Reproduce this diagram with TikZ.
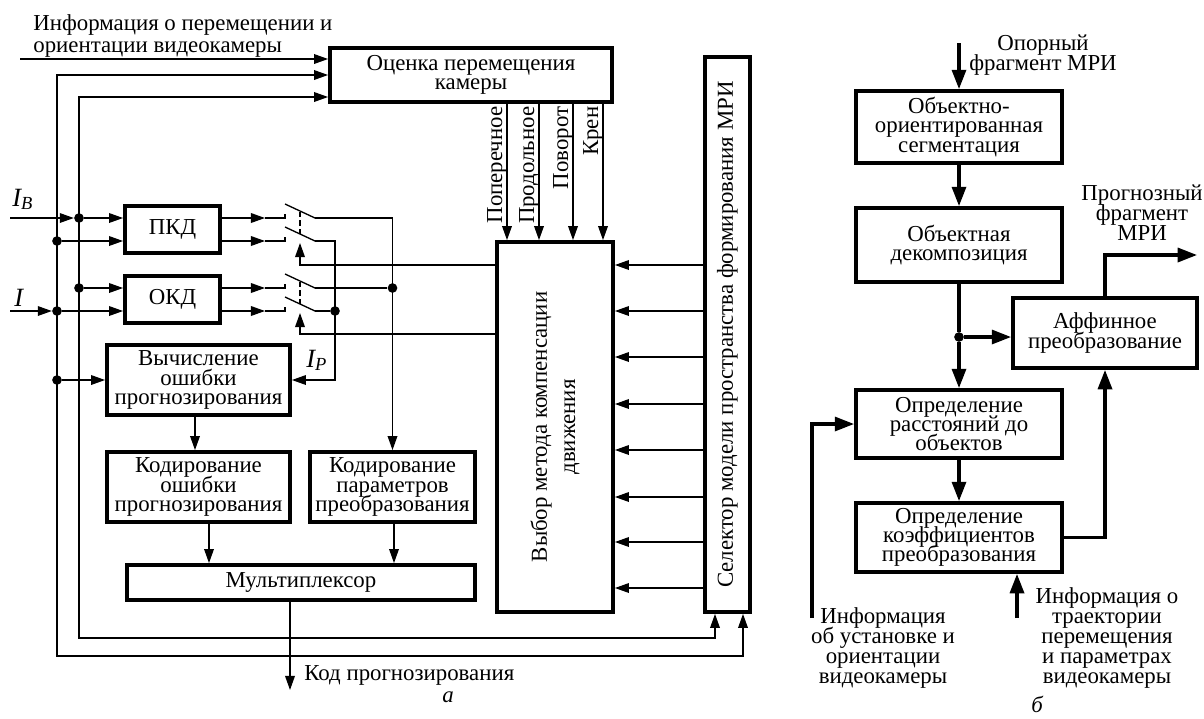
\documentclass[tikz,border=0pt]{standalone}
\usepackage{fontspec}
\setmainfont{Liberation Serif}
\usetikzlibrary{arrows.meta,calc}
\setlength{\lineskiplimit}{-20pt}

\begin{document}
\begin{tikzpicture}[x=0.02cm,y=-0.02cm,
  font=\fontsize{13}{11}\selectfont,
  blok/.style={draw,line width=2.2pt,align=center,inner sep=1pt},
  prik/.style={circle,fill,inner sep=0pt,minimum size=5.5pt},
  tonk/.style={line width=0.75pt},
  tolst/.style={line width=1.8pt,>={Triangle[length=11pt,width=8pt]}},
  >={Triangle[length=8pt,width=5.5pt]}]
  \useasboundingbox (0,0) rectangle (1204,718);
  % Bloki (a)
  \node[blok,minimum width=5.64cm,minimum height=1.08cm] (ocenka) at (471,75) {Оценка перемещения\\камеры};
  \node[blok,minimum width=2.32cm,minimum height=7.4cm] (vybor) at (555,427)
    {\rotatebox{90}{\parbox{6cm}{\centering\baselineskip=16pt Выбор метода компенсации\\движения\par}}};
  \node[blok,minimum width=0.9cm,minimum height=11.1cm] (sel) at (727.5,334.5)
    {\rotatebox{90}{Селектор модели пространства формирования МРИ}};
  \node[blok,minimum width=1.9cm,minimum height=0.94cm] (pkd) at (172.5,229.5) {ПКД};
  \node[blok,minimum width=1.9cm,minimum height=0.94cm] (okd) at (172.5,299.5) {ОКД};
  \node[blok,minimum width=3.66cm,minimum height=1.4cm] (vych) at (198.5,380) {Вычисление\\ошибки\\прогнозирования};
  \node[blok,minimum width=3.66cm,minimum height=1.4cm] (koderr) at (198.5,487) {Кодирование\\ошибки\\прогнозирования};
  \node[blok,minimum width=3.3cm,minimum height=1.4cm] (kodpar) at (392.5,487) {Кодирование\\параметров\\преобразования};
  \node[blok,minimum width=6.96cm,minimum height=0.7cm] (mux) at (301,582.5) {Мультиплексор};
  % Podpisi (a)
  \node[anchor=north west,align=left,inner sep=0pt,font=\fontsize{13}{12.5}\selectfont] (infotxt) at (33,14.5)
    {Информация о перемещении и\\ориентации видеокамеры};
  \node[anchor=base west,inner sep=0pt,font=\fontsize{15}{15}\selectfont\itshape] (lIB) at (12,206) {I\textsubscript{B}};
  \node[anchor=base west,inner sep=0pt,font=\fontsize{15}{15}\selectfont\itshape] (lI) at (14,306) {I};
  \node[anchor=base west,inner sep=0pt,font=\fontsize{15}{15}\selectfont\itshape] (lIP) at (306,367) {I\textsubscript{P}};
  \node[anchor=west,inner sep=0pt] (kodlab) at (304,675) {Код прогнозирования};
  \node[font=\fontsize{13}{13}\selectfont\itshape] (la) at (448,697) {а};
  % Tochki
  \node[prik] (dB1) at (79,218) {};
  \node[prik] (dA1) at (57,241) {};
  \node[prik] (dB2) at (79,288) {};
  \node[prik] (dA2) at (57,311) {};
  \node[prik] (dA3) at (57,380) {};
  \node[prik] (dP1) at (392.5,288) {};
  \node[prik] (dP2) at (335,311) {};
  \coordinate (inInfo) at (20,59);
  \coordinate (inIB) at (10,218);
  \coordinate (inI) at (10,311);
  \coordinate (kodout) at (290,690);
  % Vhody
  \begin{scope}[tonk]
  \draw[->] (inInfo) -- (inInfo -| ocenka.west);
  \draw[->] (inIB) -- (dB1);
  \draw[->] (inI) -- (dA2);
  \draw[<->] (ocenka.west) -| (57,656) -| ($(sel.south)+(15.5,0)$);
  \draw[<->] ($(ocenka.west)+(0,22)$) -| (79,638) -| ($(sel.south)+(-12.5,0)$);
  \draw[->] (dB1) -- (dB1 -| pkd.west);
  \draw[->] (dA1) -- (dA1 -| pkd.west);
  \draw[->] (dB2) -- (dB2 -| okd.west);
  \draw[->] (dA2) -- (dA2 -| okd.west);
  \draw[->] (dA3) -- (vych.west);
  % Kljuchi
  \foreach \b/\y in {pkd/218,pkd/241,okd/288,okd/311} {
    \draw[->] (\b.east |- 0,\y) -- (265,\y);
    \draw (265,\y) -- (285,\y) -- ++(0,-4);
    \draw (285,\y-14) -- (315,\y);
  }
  \draw[densely dashed] (300,211.5) -- (300,234.5);
  \draw[densely dashed] (300,281.5) -- (300,304.5);
  \draw[->] (vybor.west |- 0,265) -| (300,243);
  \draw[->] (vybor.west |- 0,334) -| (300,313);
  \draw[->] (315,218) -| (kodpar.north);
  \draw (315,288) -- (dP1);
  \draw[->] (315,241) -| (335,380) -- (vych.east);
  \draw (315,311) -- (dP2);
  % Kodirovanie
  \draw[->] (vych.south -| 195,0) -- (koderr.north -| 195,0);
  \draw[->] (koderr.south -| 209,0) -- (mux.north -| 209,0);
  \draw[->] (kodpar.south -| 394,0) -- (mux.north -| 394,0);
  \draw[->] (mux.south -| kodout) -- (kodout);
  % Dvizhenie
  \foreach \x/\lab in {507/Поперечное,539/Продольное,573/Поворот,603/Крен} {
    \draw[->] (ocenka.south -| \x,0) -- (vybor.north -| \x,0);
    \node[rotate=90,anchor=base east,inner sep=0pt] (lab\x) at (\x-5,106) {\lab};
  }
  \foreach \y in {265,311,357,404,450,497,542,588}
    \draw[->] (sel.west |- 0,\y) -- (vybor.east |- 0,\y);
  \end{scope}
  % Bloki (b)
  \node[blok,minimum width=4.12cm,minimum height=1.44cm] (seg) at (959,127) {Объектно-\\ориентированная\\сегментация};
  \node[blok,minimum width=4.12cm,minimum height=1.48cm] (dekomp) at (959,245) {Объектная\\декомпозиция};
  \node[blok,minimum width=3.68cm,minimum height=1.4cm] (aff) at (1105,333) {Аффинное\\преобразование};
  \node[blok,minimum width=4.12cm,minimum height=1.36cm] (rasst) at (959,424) {Определение\\расстояний до\\объектов};
  \node[blok,minimum width=4.12cm,minimum height=1.38cm] (koef) at (959,537.5) {Определение\\коэффициентов\\преобразования};
  % Podpisi (b)
  \begin{scope}[every node/.style={align=center,font=\fontsize{13}{11.4}\selectfont}]
  \node (opor) at (1043,55) {Опорный\\фрагмент МРИ};
  \node (prog) at (1142,213) {Прогнозный\\фрагмент\\МРИ};
  \node (info1) at (883,648) {Информация\\об установке и\\ориентации\\видеокамеры};
  \node (info2) at (1107,638) {Информация о\\траектории\\перемещения\\и параметрах\\видеокамеры};
  \end{scope}
  \node[font=\fontsize{13}{13}\selectfont\itshape] (lb) at (1037,704) {б};
  \node[prik] (dR) at (959,337) {};
  \coordinate (inOpor) at (959,43);
  \coordinate (outProg) at (1197,255);
  \coordinate (inUst) at (812,618);
  \coordinate (inTraj) at (1017,618);
  % Svjazi (b)
  \begin{scope}[tolst]
  \draw[->] (inOpor) -- (seg.north);
  \draw[->] (seg) -- (dekomp);
  \draw (dekomp) -- (dR);
  \draw[->] (dR) -- (rasst.north);
  \draw[->] (dR) -- (dR -| aff.west);
  \draw[->] (rasst) -- (koef);
  \draw[->] (aff.north) |- (outProg);
  \draw[->] (koef.east) -| (aff.south);
  \draw[->] (inUst) |- (rasst.west);
  \draw[->] (inTraj) -- (inTraj |- koef.south);
  \end{scope}
\end{tikzpicture}
\end{document}
